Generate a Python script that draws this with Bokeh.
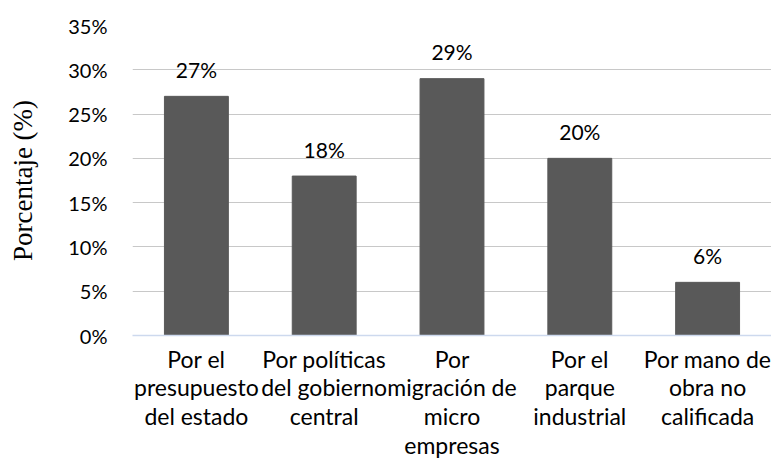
from bokeh.plotting import figure
from bokeh.models import ColumnDataSource, NumeralTickFormatter, FixedTicker
from bokeh.core.properties import value
from bokeh.embed import file_html
from bokeh.resources import INLINE

categories = [
    "Por el\npresupuesto\ndel estado",
    "Por políticas\ndel gobierno\ncentral",
    "Por\nmigración de\nmicro\nempresas",
    "Por el\nparque\nindustrial",
    "Por mano de\nobra no\ncalificada",
]
values = [0.27, 0.18, 0.29, 0.20, 0.06]
value_labels = ["27%", "18%", "29%", "20%", "6%"]
y_ticks = [0, 0.05, 0.10, 0.15, 0.20, 0.25, 0.30, 0.35]

source = ColumnDataSource(dict(cat=categories, val=values, lab=value_labels))

p = figure(x_range=categories, y_range=(0, 0.35), width=771, height=462,
           output_backend="svg", toolbar_location=None,
           min_border_left=132, min_border_right=0, min_border_top=25, min_border_bottom=126)
p.outline_line_color = None
p.background_fill_color = "white"
p.border_fill_color = "white"

p.vbar(x="cat", top="val", width=0.5, source=source, color="#595959")
p.text(x="cat", y="val", text="lab", source=source, y_offset=-27,
       text_align="center", text_baseline="alphabetic",
       text_font=value("Lato"), text_font_size="21px", text_color="#000000")

p.xgrid.grid_line_color = None
p.ygrid.grid_line_color = "#c8c8c8"
p.ygrid.grid_line_width = 1

p.yaxis.ticker = FixedTicker(ticks=y_ticks)
p.yaxis.formatter = NumeralTickFormatter(format="0%")
p.yaxis.axis_line_color = None
p.yaxis.major_tick_line_color = None
p.yaxis.minor_tick_line_color = None
p.yaxis.major_label_standoff = 19
p.yaxis.major_label_text_font = "Lato"
p.yaxis.major_label_text_font_size = "20px"
p.yaxis.major_label_text_color = "#000000"
p.yaxis.axis_label = "Porcentaje (%)"
p.yaxis.axis_label_text_font = "Liberation Serif"
p.yaxis.axis_label_text_font_size = "27px"
p.yaxis.axis_label_text_font_style = "normal"
p.yaxis.axis_label_text_color = "#000000"
p.yaxis.axis_label_standoff = 27

p.xaxis.axis_line_color = "#cdd9ee"
p.xaxis.axis_line_width = 1.5
p.xaxis.major_tick_line_color = None
p.xaxis.minor_tick_line_color = None
p.xaxis.major_label_standoff = 3
p.xaxis.major_label_text_font = "Lato"
p.xaxis.major_label_text_font_size = "23px"
p.xaxis.major_label_text_line_height = 1.03
p.xaxis.major_label_text_color = "#000000"

open("out.html", "w").write(file_html(p, INLINE))
